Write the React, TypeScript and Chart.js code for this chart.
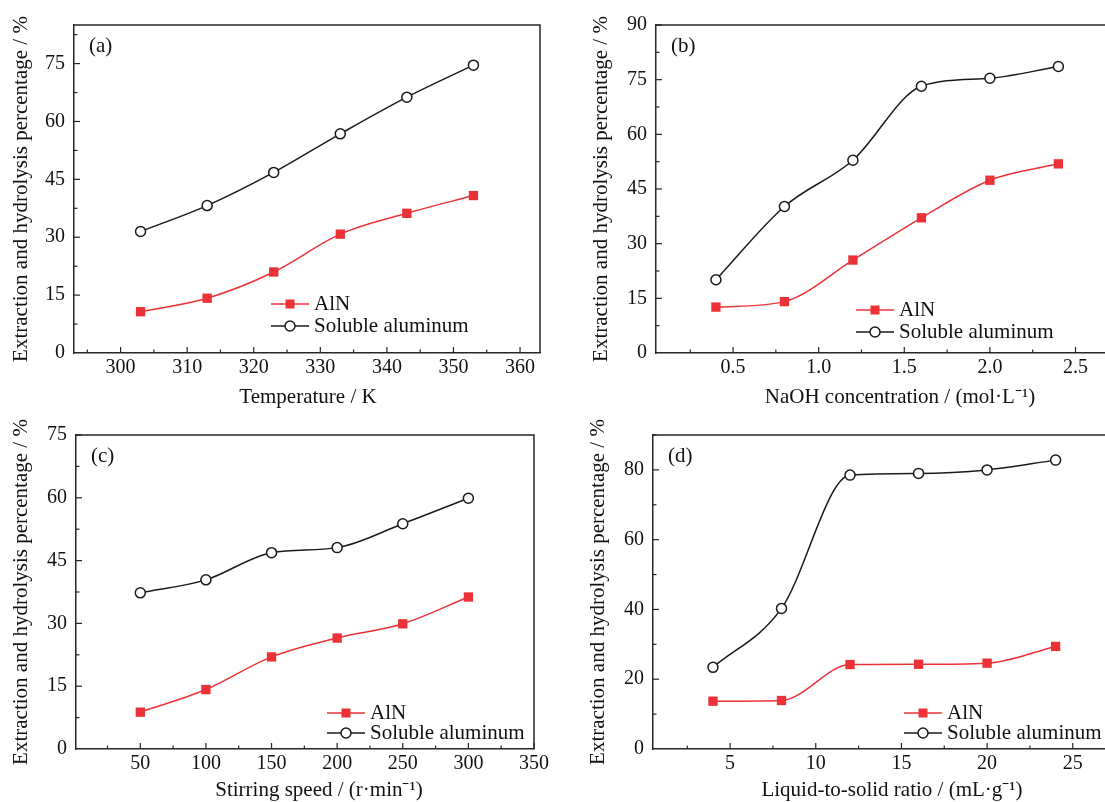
import React, { useEffect, useRef } from "react";
import { Chart, registerables } from "chart.js";

Chart.register(...registerables);

const FONT = "'Liberation Serif', 'Times New Roman', serif";
const RED = "#ec3237";
const BLACK = "#1a1a1a";
const AXIS = "#262626";
const TICK_FS = 20;
const TITLE_FS = 21;
const LEGEND_FS = 21;

// (a) Temperature
const tempK = [303, 313, 323, 333, 343, 353];
const tempAlN = [10.7, 14.2, 21.0, 30.8, 36.2, 40.8];
const tempSol = [31.5, 38.2, 46.8, 56.8, 66.3, 74.6];
const tempXTicks = [300, 310, 320, 330, 340, 350, 360];
const tempYTicks = [0, 15, 30, 45, 60, 75];

// (b) NaOH concentration
const naohConc = [0.4, 0.8, 1.2, 1.6, 2.0, 2.4];
const naohAlN = [12.6, 14.1, 25.5, 37.1, 47.4, 51.9];
const naohSol = [20.1, 40.2, 52.9, 73.2, 75.4, 78.6];
const naohXTicks = [0.5, 1.0, 1.5, 2.0, 2.5];
const naohYTicks = [0, 15, 30, 45, 60, 75, 90];

// (c) Stirring speed
const speed = [50, 100, 150, 200, 250, 300];
const speedAlN = [8.8, 14.2, 22.0, 26.5, 29.9, 36.3];
const speedSol = [37.3, 40.4, 46.9, 48.1, 53.8, 59.9];
const speedXTicks = [50, 100, 150, 200, 250, 300, 350];
const speedYTicks = [0, 15, 30, 45, 60, 75];

// (d) Liquid-to-solid ratio
const ratio = [4, 8, 12, 16, 20, 24];
const ratioAlN = [13.7, 13.9, 24.2, 24.3, 24.6, 29.4];
const ratioSol = [23.4, 40.3, 78.5, 79.0, 80.0, 82.8];
const ratioXTicks = [5, 10, 15, 20, 25];
const ratioYTicks = [0, 20, 40, 60, 80];

const seriesNames = ["AlN", "Soluble aluminum"];
const yTitle = "Extraction and hydrolysis percentage / %";

type Spec = {
  key: string;
  left: number;
  top: number;
  width: number;
  height: number;
  area: { l: number; t: number; r: number; b: number };
  xMin: number;
  xMax: number;
  yMin: number;
  yMax: number;
  xTicks: number[];
  yTicks: number[];
  xDec: number;
  xTitle: string;
  xTitlePos: { x: number; y: number };
  yTitlePad: number;
  label: string;
  legend: { x1: number; r1: number; r2: number };
  xs: number[];
  aln: number[];
  sol: number[];
};

const specs: Spec[] = [
  {
    key: "a", left: 0, top: 0, width: 552, height: 410,
    area: { l: 74, t: 25, r: 540, b: 353 },
    xMin: 293, xMax: 363, yMin: 0, yMax: 85,
    xTicks: tempXTicks, yTicks: tempYTicks, xDec: 0,
    xTitle: "Temperature / K", xTitlePos: { x: 308, y: 397 }, yTitlePad: 9,
    label: "(a)",
    legend: { x1: 197, r1: -49, r2: -27 },
    xs: tempK, aln: tempAlN, sol: tempSol,
  },
  {
    key: "b", left: 560, top: 0, width: 600, height: 410,
    area: { l: 96, t: 25, r: 584, b: 353 },
    xMin: 0.05, xMax: 2.9, yMin: 0, yMax: 90,
    xTicks: naohXTicks, yTicks: naohYTicks, xDec: 1,
    xTitle: "NaOH concentration / (mol\u00B7L\u207B\u00B9)", xTitlePos: { x: 340, y: 397 }, yTitlePad: 29,
    label: "(b)",
    legend: { x1: 200, r1: -43, r2: -21 },
    xs: naohConc, aln: naohAlN, sol: naohSol,
  },
  {
    key: "c", left: 0, top: 410, width: 552, height: 392,
    area: { l: 76, t: 25, r: 538, b: 339 },
    xMin: 1, xMax: 350, yMin: 0, yMax: 75,
    xTicks: speedXTicks, yTicks: speedYTicks, xDec: 0,
    xTitle: "Stirring speed / (r\u00B7min\u207B\u00B9)", xTitlePos: { x: 319, y: 380 }, yTitlePad: 9,
    label: "(c)",
    legend: { x1: 251, r1: -36, r2: -16 },
    xs: speed, aln: speedAlN, sol: speedSol,
  },
  {
    key: "d", left: 560, top: 410, width: 600, height: 392,
    area: { l: 93, t: 25, r: 571, b: 339 },
    xMin: 0.5, xMax: 28.4, yMin: 0, yMax: 90,
    xTicks: ratioXTicks, yTicks: ratioYTicks, xDec: 0,
    xTitle: "Liquid-to-solid ratio / (mL\u00B7g\u207B\u00B9)", xTitlePos: { x: 332, y: 380 }, yTitlePad: 26,
    label: "(d)",
    legend: { x1: 251, r1: -36, r2: -16 },
    xs: ratio, aln: ratioAlN, sol: ratioSol,
  },
];

function minorsOf(major: number[], min: number, max: number): number[] {
  const step = major[1] - major[0];
  const out: number[] = [];
  for (let v = major[0] - step / 2; v <= max + 1e-9; v += step) {
    if (v >= min - 1e-9) out.push(v);
  }
  return out;
}

function makeDecor(spec: Spec) {
  return {
    id: "decor_" + spec.key,
    afterDraw(chart: any) {
      const ctx = chart.ctx as CanvasRenderingContext2D;
      const { left, top, right, bottom } = chart.chartArea;
      const xs = chart.scales.x;
      const ys = chart.scales.y;
      ctx.save();
      // top & right border
      ctx.strokeStyle = AXIS;
      ctx.lineWidth = 1.5;
      ctx.beginPath();
      ctx.moveTo(left, top);
      ctx.lineTo(right, top);
      ctx.lineTo(right, bottom);
      ctx.stroke();
      // inward ticks
      ctx.lineWidth = 1.2;
      const drawX = (v: number, len: number) => {
        const px = xs.getPixelForValue(v);
        ctx.beginPath();
        ctx.moveTo(px, bottom);
        ctx.lineTo(px, bottom - len);
        ctx.stroke();
      };
      const drawY = (v: number, len: number) => {
        const py = ys.getPixelForValue(v);
        ctx.beginPath();
        ctx.moveTo(left, py);
        ctx.lineTo(left + len, py);
        ctx.stroke();
      };
      spec.xTicks.forEach((v) => drawX(v, 6));
      minorsOf(spec.xTicks, spec.xMin, spec.xMax).forEach((v) => drawX(v, 3.5));
      spec.yTicks.forEach((v) => { if (v > spec.yMin) drawY(v, 6); });
      minorsOf(spec.yTicks, spec.yMin, spec.yMax).forEach((v) => drawY(v, 3.5));

      // x-axis title
      ctx.fillStyle = "#111";
      ctx.font = `${TITLE_FS}px ${FONT}`;
      ctx.textBaseline = "middle";
      ctx.textAlign = "center";
      ctx.fillText(spec.xTitle, spec.xTitlePos.x, spec.xTitlePos.y);

      // panel label
      ctx.font = `${LEGEND_FS}px ${FONT}`;
      ctx.textAlign = "left";
      ctx.fillText(spec.label, left + 15, top + 21);

      // legend
      const x1 = left + spec.legend.x1;
      const x2 = x1 + 38;
      const xm = (x1 + x2) / 2;
      const rows = [bottom + spec.legend.r1, bottom + spec.legend.r2];
      ctx.strokeStyle = RED;
      ctx.lineWidth = 1.5;
      ctx.beginPath();
      ctx.moveTo(x1, rows[0]);
      ctx.lineTo(x2, rows[0]);
      ctx.stroke();
      ctx.fillStyle = RED;
      ctx.fillRect(xm - 4.5, rows[0] - 4.5, 9, 9);
      ctx.strokeStyle = BLACK;
      ctx.beginPath();
      ctx.moveTo(x1, rows[1]);
      ctx.lineTo(x2, rows[1]);
      ctx.stroke();
      ctx.fillStyle = "#fff";
      ctx.beginPath();
      ctx.arc(xm, rows[1], 5, 0, Math.PI * 2);
      ctx.fill();
      ctx.stroke();
      ctx.fillStyle = "#111";
      ctx.fillText(seriesNames[0], x2 + 5, rows[0]);
      ctx.fillText(seriesNames[1], x2 + 5, rows[1]);
      ctx.restore();
    },
  };
}

function Panel({ spec }: { spec: Spec }) {
  const ref = useRef<HTMLCanvasElement | null>(null);
  useEffect(() => {
    if (!ref.current) return;
    const tickFont = { family: FONT, size: TICK_FS };
    const titleFont = { family: FONT, size: TITLE_FS };
    const chart = new Chart(ref.current, {
      type: "line",
      data: {
        datasets: [
          {
            label: seriesNames[1],
            data: spec.xs.map((x, i) => ({ x, y: spec.sol[i] })),
            borderColor: BLACK,
            borderWidth: 1.5,
            pointStyle: "circle",
            pointRadius: 5,
            pointBorderWidth: 1.5,
            pointBackgroundColor: "#fff",
            pointBorderColor: BLACK,
            cubicInterpolationMode: "monotone",
            tension: 0.4,
          },
          {
            label: seriesNames[0],
            data: spec.xs.map((x, i) => ({ x, y: spec.aln[i] })),
            borderColor: RED,
            borderWidth: 1.5,
            pointStyle: "rect",
            pointRadius: 6.6,
            pointBorderWidth: 0,
            pointBackgroundColor: RED,
            pointBorderColor: RED,
            cubicInterpolationMode: "monotone",
            tension: 0.4,
          },
        ],
      },
      options: {
        animation: false,
        responsive: false,
        devicePixelRatio: 1,
        layout: {
          padding: { left: 0, top: spec.area.t, right: spec.width - spec.area.r, bottom: 0 },
        },
        plugins: { legend: { display: false }, tooltip: { enabled: false } },
        scales: {
          x: {
            type: "linear",
            min: spec.xMin,
            max: spec.xMax,
            grid: { display: false, drawTicks: false },
            border: { display: true, color: AXIS, width: 1.5 },
            ticks: {
              font: tickFont,
              color: "#111",
              padding: 3,
              maxRotation: 0,
              autoSkip: false,
              callback: (v: any) => Number(v).toFixed(spec.xDec),
            },
            title: { display: false, text: spec.xTitle },
            afterBuildTicks: (s: any) => {
              s.ticks = spec.xTicks.map((v) => ({ value: v }));
            },
            afterFit: (s: any) => {
              s.height = spec.height - spec.area.b;
            },
          },
          y: {
            type: "linear",
            min: spec.yMin,
            max: spec.yMax,
            grid: { display: false, drawTicks: false },
            border: { display: true, color: AXIS, width: 1.5 },
            ticks: {
              font: tickFont,
              color: "#111",
              padding: 9,
              autoSkip: false,
              callback: (v: any) => String(v),
            },
            title: {
              display: true,
              text: yTitle,
              font: titleFont,
              color: "#111",
              padding: { top: spec.yTitlePad, bottom: 0 },
            },
            afterBuildTicks: (s: any) => {
              s.ticks = spec.yTicks.map((v) => ({ value: v }));
            },
            afterFit: (s: any) => {
              s.width = spec.area.l;
            },
          },
        },
      },
      plugins: [makeDecor(spec)],
    } as any);
    return () => chart.destroy();
  }, [spec]);
  return (
    <canvas
      ref={ref}
      width={spec.width}
      height={spec.height}
      style={{ position: "absolute", left: spec.left, top: spec.top, width: spec.width, height: spec.height }}
    />
  );
}

export default function App() {
  return (
    <div
      style={{
        position: "fixed",
        left: 0,
        top: 0,
        width: 1105,
        height: 802,
        overflow: "hidden",
        background: "#fff",
      }}
    >
      {specs.map((s) => (
        <Panel key={s.key} spec={s} />
      ))}
    </div>
  );
}
